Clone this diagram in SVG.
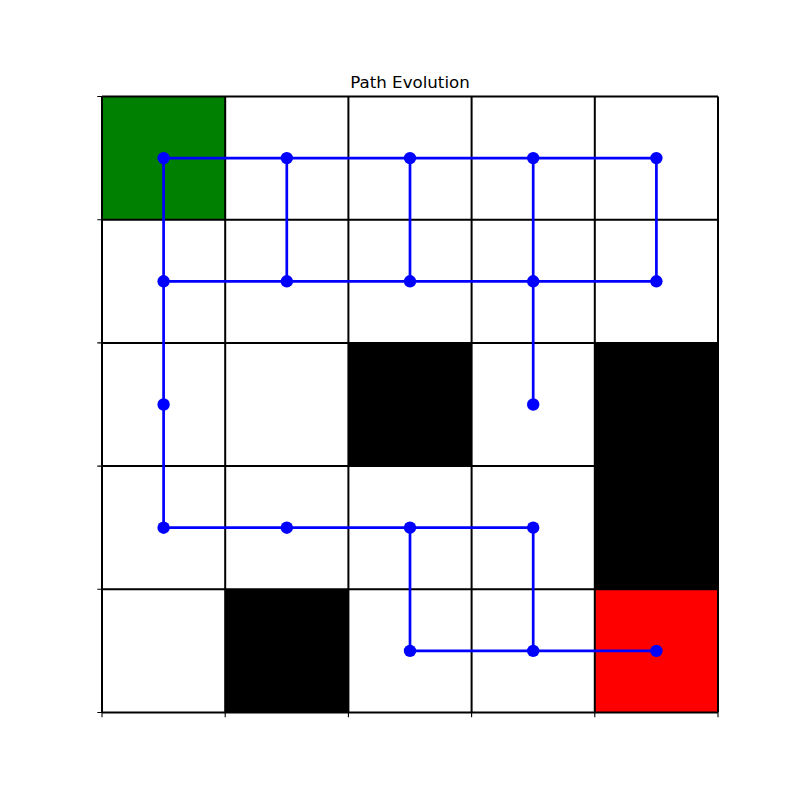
<svg xmlns="http://www.w3.org/2000/svg" width="800" height="800" viewBox="0 0 800 800">
<style>
.grid{stroke:#000;stroke-width:2;fill:none}
.tick{stroke:#000;stroke-width:1.1}
.path{stroke:#0000ff;stroke-width:2.7;fill:none;stroke-linecap:butt}
.dot{fill:#0000ff}
.title{font-family:"DejaVu Sans",sans-serif;font-size:16.67px;fill:#000}
</style>
<rect width="800" height="800" fill="#fff"/>
<text class="title" x="410" y="88" text-anchor="middle">Path Evolution</text>
<g id="cells">
<rect x="102" y="96.5" width="123.2" height="123.2" fill="#008000"/>
<rect x="348.4" y="342.9" width="123.2" height="123.2" fill="#000"/>
<rect x="594.8" y="342.9" width="123.2" height="246.4" fill="#000"/>
<rect x="225.2" y="589.3" width="123.2" height="123.2" fill="#000"/>
<rect x="594.8" y="589.3" width="123.2" height="123.2" fill="#ff0000"/>
</g>
<g id="grid">
<path class="grid" d="M102,96.5V712.5M225.2,96.5V712.5M348.4,96.5V712.5M471.6,96.5V712.5M594.8,96.5V712.5M718,96.5V712.5M102,96.5H718M102,219.7H718M102,342.9H718M102,466.1H718M102,589.3H718M102,712.5H718"/>
<path class="tick" d="M97.3,96.5H102M97.3,219.7H102M97.3,342.9H102M97.3,466.1H102M97.3,589.3H102M97.3,712.5H102M102,712.5V717.2M225.2,712.5V717.2M348.4,712.5V717.2M471.6,712.5V717.2M594.8,712.5V717.2M718,712.5V717.2"/>
</g>
<g id="connectors">
<path class="path" d="M163.6,158.1H656.4M163.6,281.3H656.4M163.6,158.1V527.7M286.8,158.1V281.3M410,158.1V281.3M533.2,158.1V404.5M656.4,158.1V281.3M163.6,527.7H533.2M410,527.7V650.9M533.2,527.7V650.9M410,650.9H656.4"/>
</g>
<g id="nodes">
<g id="r0" class="dot"><circle cx="163.6" cy="158.1" r="6.2"/><circle cx="286.8" cy="158.1" r="6.2"/><circle cx="410" cy="158.1" r="6.2"/><circle cx="533.2" cy="158.1" r="6.2"/><circle cx="656.4" cy="158.1" r="6.2"/></g>
<g id="r1" class="dot"><circle cx="163.6" cy="281.3" r="6.2"/><circle cx="286.8" cy="281.3" r="6.2"/><circle cx="410" cy="281.3" r="6.2"/><circle cx="533.2" cy="281.3" r="6.2"/><circle cx="656.4" cy="281.3" r="6.2"/></g>
<g id="r2" class="dot"><circle cx="163.6" cy="404.5" r="6.2"/><circle cx="533.2" cy="404.5" r="6.2"/></g>
<g id="r3" class="dot"><circle cx="163.6" cy="527.7" r="6.2"/><circle cx="286.8" cy="527.7" r="6.2"/><circle cx="410" cy="527.7" r="6.2"/><circle cx="533.2" cy="527.7" r="6.2"/></g>
<g id="r4" class="dot"><circle cx="410" cy="650.9" r="6.2"/><circle cx="533.2" cy="650.9" r="6.2"/><circle cx="656.4" cy="650.9" r="6.2"/></g>
</g>
</svg>
